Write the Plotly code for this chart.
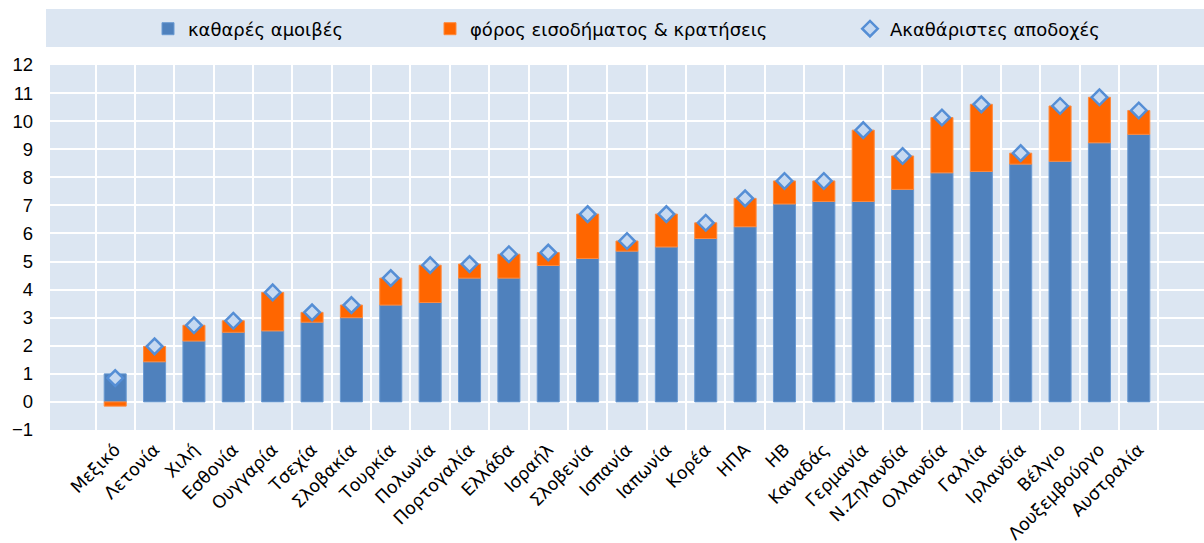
import plotly.graph_objects as go

countries = ["Μεξικό", "Λετονία", "Χιλή", "Εσθονία", "Ουγγαρία", "Τσεχία", "Σλοβακία",
             "Τουρκία", "Πολωνία", "Πορτογαλία", "Ελλάδα", "Ισραήλ", "Σλοβενία", "Ισπανία",
             "Ιαπωνία", "Κορέα", "ΗΠΑ", "ΗΒ", "Καναδάς", "Γερμανία", "Ν.Ζηλανδία",
             "Ολλανδία", "Γαλλία", "Ιρλανδία", "Βέλγιο", "Λουξεμβούργο", "Αυστραλία"]
net_pay = [1.00, 1.43, 2.17, 2.48, 2.53, 2.84, 3.00, 3.45, 3.54, 4.41, 4.41, 4.86, 5.11, 5.37,
           5.52, 5.82, 6.24, 7.05, 7.14, 7.14, 7.57, 8.16, 8.21, 8.47, 8.57, 9.23, 9.53]
tax = [-0.15, 0.55, 0.56, 0.41, 1.37, 0.35, 0.45, 0.96, 1.33, 0.50, 0.85, 0.46, 1.58, 0.36,
       1.17, 0.56, 1.01, 0.82, 0.73, 2.54, 1.19, 1.97, 2.39, 0.39, 1.97, 1.62, 0.85]
gross = [n + t for n, t in zip(net_pay, tax)]
y_ticks = list(range(-1, 13))

names = ["καθαρές αμοιβές", "φόρος εισοδήματος & κρατήσεις", "Ακαθάριστες αποδοχές"]

fig = go.Figure()
fig.add_trace(go.Bar(x=countries, y=net_pay, name=names[0],
                     marker=dict(color="#4F81BD", line=dict(color="#6A9AD2", width=1)),
                     legend="legend"))
fig.add_trace(go.Bar(x=countries, y=tax, name=names[1],
                     marker=dict(color="#FF6600", line=dict(color="#FF8A3D", width=1)),
                     legend="legend2"))
fig.add_trace(go.Scatter(x=countries, y=gross, name=names[2], mode="markers",
                         marker=dict(symbol="diamond", size=12, color="#C6D9F1",
                                     line=dict(color="#558ED5", width=2.5)),
                         legend="legend3"))

leg_font = dict(family="DejaVu Sans, Verdana, sans-serif", size=18, color="#000000")
leg_common = dict(orientation="h", yanchor="middle", y=1 - 29 / 543, yref="container",
                  xanchor="left", xref="container", bgcolor="rgba(0,0,0,0)",
                  font=leg_font, itemwidth=30, borderwidth=0)

fig.update_layout(
    width=1204, height=543,
    margin=dict(l=50, r=0, t=65, b=113, autoexpand=False),
    paper_bgcolor="white",
    plot_bgcolor="#DCE6F2",
    barmode="relative",
    bargap=0.44,
    showlegend=True,
    legend=dict(x=148 / 1204, **leg_common),
    legend2=dict(x=430 / 1204, **leg_common),
    legend3=dict(x=850 / 1204, **leg_common),
    shapes=[dict(type="rect", xref="paper", yref="paper", x0=-4 / 1154, x1=1.0,
                 y0=(430 - 47) / 365, y1=(430 - 9) / 365, fillcolor="#DCE6F2",
                 line=dict(width=0), layer="below")],
    xaxis=dict(tickson="boundaries", showgrid=True, gridcolor="white", gridwidth=2,
               tickangle=-45, ticks="", showline=False, zeroline=False, automargin=False,
               ticklabelstandoff=5,
               tickfont=dict(family="DejaVu Sans, Verdana, sans-serif", size=17.5, color="#000000")),
    yaxis=dict(range=[-1, 12], tickvals=y_ticks, showgrid=True, gridcolor="white",
               gridwidth=2, zeroline=False, showline=False, ticks="", automargin=False,
               ticklabelstandoff=16,
               tickfont=dict(family="Liberation Sans, Arial, sans-serif", size=18.5, color="#000000")),
)

fig.write_html("out.html", config={"displayModeBar": False},
               post_script="document.body.style.margin='0';")
